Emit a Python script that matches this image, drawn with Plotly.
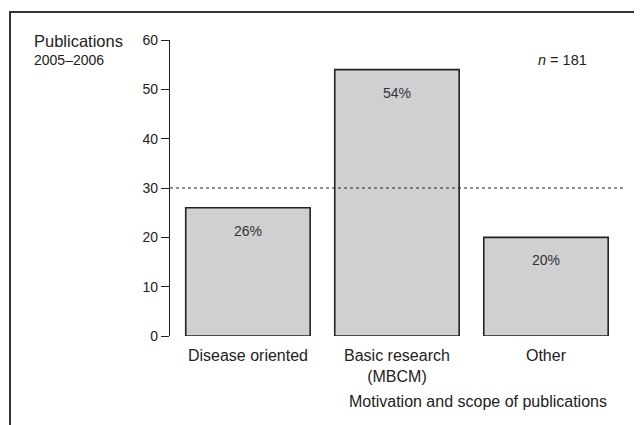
import plotly.graph_objects as go

categories = ["Disease oriented", "Basic research<br>(MBCM)", "Other"]
values = [26, 54, 20]
pct_labels = ["26%", "54%", "20%"]
y_ticks = [0, 10, 20, 30, 40, 50, 60]
reference_line = 30

FONT = "Liberation Sans, Arial, sans-serif"
OFF = 8  # default page body margin
PW, PH = 642, 425
W, H = PW - OFF, PH - OFF
# plot area in page pixels
PL, PR, PT, PB = 170, 626, 40, 336
L, T = PL - OFF, PT - OFF
R, B = W - (PR - OFF), H - (PB - OFF)

fig = go.Figure()
fig.add_trace(go.Bar(
    x=[0, 1, 2], y=values, width=0.835,
    marker=dict(color="#d0d0d2", line=dict(color="#222222", width=1.6)),
    hoverinfo="skip",
))

for i, (v, t) in enumerate(zip(values, pct_labels)):
    fig.add_annotation(x=i, y=v, text=t, showarrow=False, yshift=-23,
                       xanchor="center", yanchor="middle",
                       font=dict(family=FONT, size=14, color="#333333"))

fig.add_shape(type="line", xref="paper", yref="y", x0=0, x1=1,
              y0=reference_line, y1=reference_line,
              line=dict(color="#222222", width=1, dash="dot"))

# page pixel -> paper coords
px = lambda p: (p - PL) / (PR - PL)
py = lambda p: (PB - p) / (PB - PT)
fig.add_shape(type="path", xref="paper", yref="paper",
              path=f"M {px(10)},{py(445)} L {px(10)},{py(12)} L {px(670)},{py(12)}",
              line=dict(color="#333333", width=2))

fig.add_annotation(xref="paper", yref="paper", x=px(32), y=py(41), xanchor="left", yanchor="middle",
                   text="Publications", showarrow=False, font=dict(family=FONT, size=16.5, color="#222"))
fig.add_annotation(xref="paper", yref="paper", x=px(32), y=py(60), xanchor="left", yanchor="middle",
                   text="2005–2006", showarrow=False, font=dict(family=FONT, size=14, color="#222"))
fig.add_annotation(xref="paper", yref="paper", x=px(562), y=py(60), xanchor="center", yanchor="middle",
                   text="<i>n</i> = 181", showarrow=False, font=dict(family=FONT, size=14.5, color="#222"))
fig.add_annotation(xref="paper", yref="paper", x=px(478), y=py(401), xanchor="center", yanchor="middle",
                   text="Motivation and scope of publications", showarrow=False,
                   font=dict(family=FONT, size=16, color="#222"))

fig.update_xaxes(range=[-0.523, 2.537], tickmode="array", tickvals=[0, 1, 2], ticktext=categories,
                 showline=False, showgrid=False, zeroline=False,
                 ticks="outside", ticklen=5, tickcolor="rgba(0,0,0,0)",
                 tickfont=dict(family=FONT, size=16, color="#222"), fixedrange=True)
fig.update_yaxes(range=[0, 60], tickmode="array", tickvals=y_ticks,
                 showline=True, linecolor="#222", linewidth=1.2,
                 ticks="outside", ticklen=8, tickcolor="#222", tickwidth=1.2,
                 showgrid=False, zeroline=False,
                 tickfont=dict(family=FONT, size=14, color="#222"), fixedrange=True)

fig.update_layout(width=W, height=H, margin=dict(l=L, r=R, t=T, b=B, autoexpand=False),
                  plot_bgcolor="white", paper_bgcolor="white", showlegend=False)
fig.write_html("out.html")
